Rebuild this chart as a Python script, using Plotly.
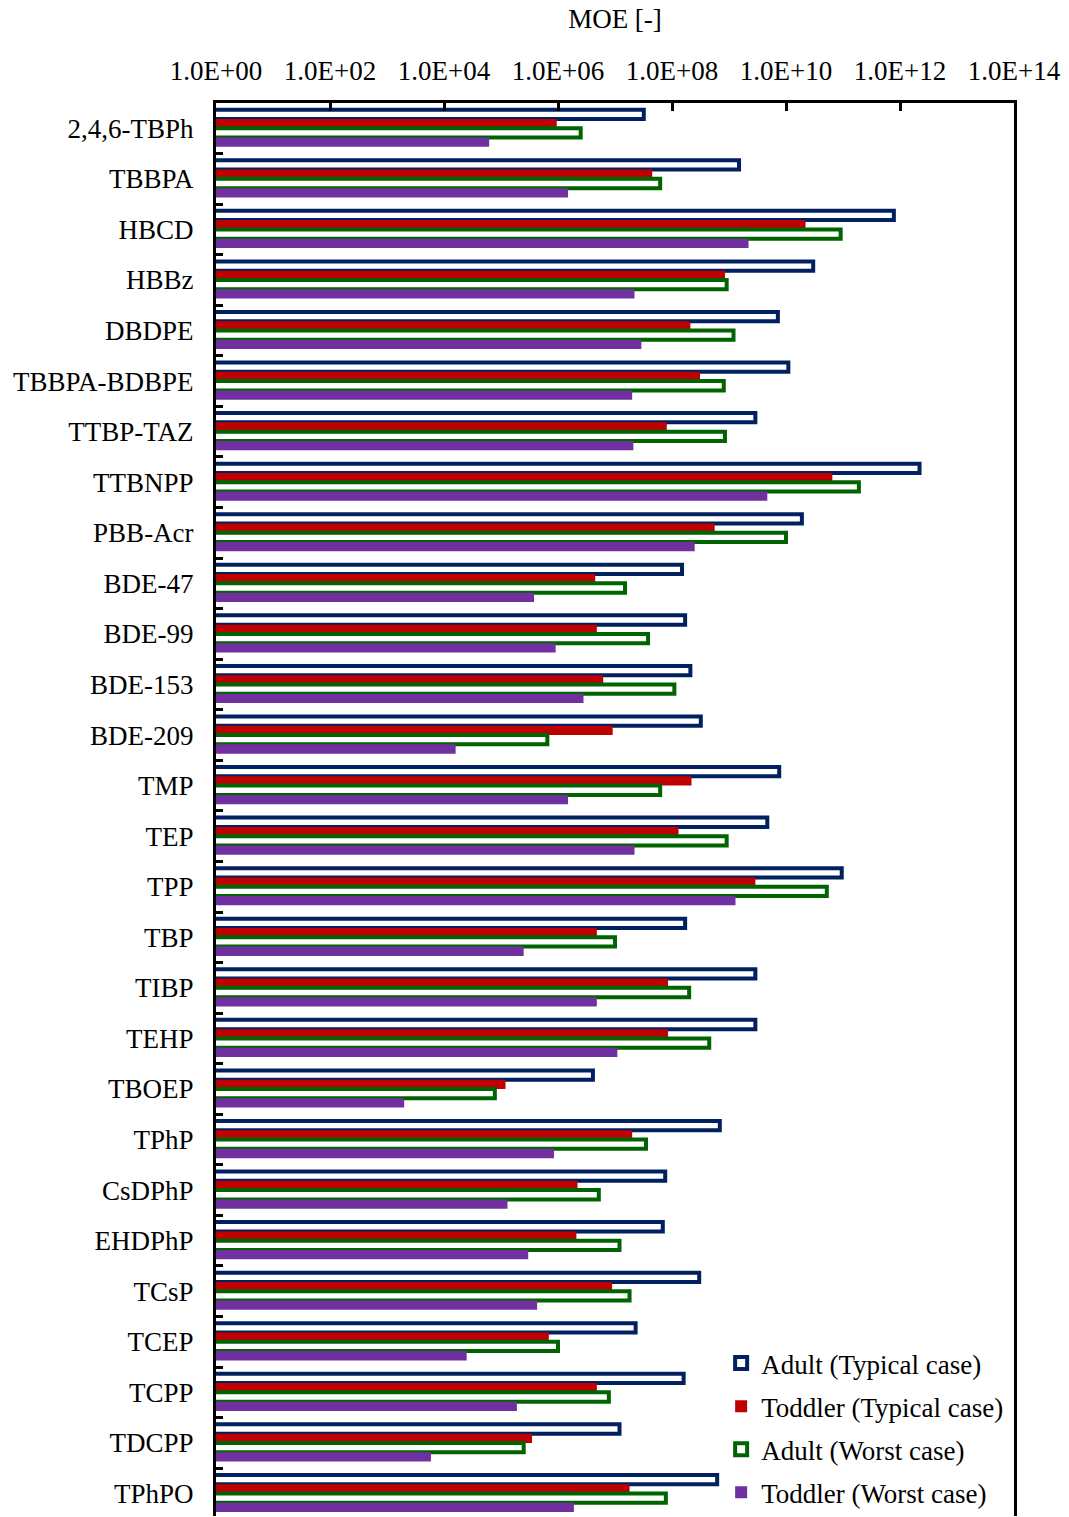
import plotly.graph_objects as go

# Flame retardants (top to bottom)
compounds = [
    "2,4,6-TBPh", "TBBPA", "HBCD", "HBBz", "DBDPE", "TBBPA-BDBPE", "TTBP-TAZ",
    "TTBNPP", "PBB-Acr", "BDE-47", "BDE-99", "BDE-153", "BDE-209", "TMP", "TEP",
    "TPP", "TBP", "TIBP", "TEHP", "TBOEP", "TPhP", "CsDPhP", "EHDPhP", "TCsP",
    "TCEP", "TCPP", "TDCPP", "TPhPO",
]

# Margin of exposure per scenario
moe_adult_typical = [
    3.2e7, 1.5e9, 7.8e11, 3.0e10, 7.2e9, 1.1e10, 2.9e9, 2.2e12, 1.9e10, 1.5e8,
    1.7e8, 2.1e8, 3.2e8, 7.6e9, 4.7e9, 9.5e10, 1.7e8, 2.9e9, 2.9e9, 4.1e6,
    6.9e8, 7.6e7, 6.9e7, 3.0e8, 2.3e7, 1.6e8, 1.2e7, 6.2e8,
]
moe_toddler_typical = [
    9.5e5, 4.5e7, 2.2e10, 8.5e8, 2.1e8, 3.1e8, 8.1e7, 6.5e10, 5.6e8, 4.5e6,
    4.8e6, 6.2e6, 9.1e6, 2.2e8, 1.3e8, 2.9e9, 4.8e6, 8.5e7, 8.5e7, 1.2e5,
    2.0e7, 2.2e6, 2.1e6, 8.9e6, 6.9e5, 4.8e6, 3.5e5, 1.8e7,
]
moe_adult_worst = [
    2.5e6, 6.2e7, 9.1e10, 9.1e8, 1.2e9, 8.1e8, 8.5e8, 1.9e11, 1.0e10, 1.5e7,
    3.8e7, 1.1e8, 6.5e5, 6.2e7, 9.1e8, 5.2e10, 1.0e7, 2.0e8, 4.5e8, 7.8e4,
    3.5e7, 5.2e6, 1.2e7, 1.8e7, 1.0e6, 7.8e6, 2.5e5, 7.8e7,
]
moe_toddler_worst = [
    6.2e4, 1.5e6, 2.2e9, 2.2e7, 2.9e7, 2.0e7, 2.1e7, 4.7e9, 2.5e8, 3.8e5,
    9.1e5, 2.8e6, 1.6e4, 1.5e6, 2.2e7, 1.3e9, 2.5e5, 4.8e6, 1.1e7, 2.0e3,
    8.5e5, 1.3e5, 3.0e5, 4.3e5, 2.5e4, 1.9e5, 5.9e3, 1.9e6,
]

tick_values = [1e0, 1e2, 1e4, 1e6, 1e8, 1e10, 1e12, 1e14]
tick_labels = ["1.0E+00", "1.0E+02", "1.0E+04", "1.0E+06",
               "1.0E+08", "1.0E+10", "1.0E+12", "1.0E+14"]

NAVY = "#002060"
RED = "#C00000"
GREEN = "#006400"
PURPLE = "#7030A0"
FONT = "Liberation Serif"

series = [
    ("Adult (Typical case)", moe_adult_typical, NAVY, True),
    ("Toddler (Typical case)", moe_toddler_typical, RED, False),
    ("Adult (Worst case)", moe_adult_worst, GREEN, True),
    ("Toddler (Worst case)", moe_toddler_worst, PURPLE, False),
]

fig = go.Figure()
for name, vals, color, hollow in series:
    if hollow:
        marker = dict(color="white", line=dict(color=color, width=4))
    else:
        marker = dict(color=color, line=dict(width=0))
    fig.add_trace(go.Bar(
        y=compounds, x=vals, orientation="h", name=name,
        legendgroup=name, marker=marker,
    ))

fig.update_layout(
    width=1069, height=1517,
    margin=dict(l=216, r=55, t=103, b=0, pad=0),
    paper_bgcolor="white", plot_bgcolor="white",
    font=dict(family=FONT, size=27, color="black"),
    barmode="group", bargap=0.265, bargroupgap=0,
    legend=dict(
        x=0.633, xanchor="left", y=0.125, yanchor="top",
        bgcolor="rgba(0,0,0,0)", borderwidth=0,
        font=dict(family=FONT, size=27, color="black"),
        traceorder="grouped", tracegroupgap=5,
    ),
)

fig.update_xaxes(
    type="log", range=[0, 14], side="top",
    tickvals=tick_values, ticktext=tick_labels,
    showline=True, linecolor="black", linewidth=3, mirror=False,
    ticks="inside", ticklen=8, tickwidth=3, tickcolor="black",
    showgrid=False, zeroline=False,
    tickfont=dict(family=FONT, size=27), ticklabelstandoff=9,
    title=dict(text="MOE [-]", font=dict(family=FONT, size=27), standoff=20),
)

fig.update_yaxes(
    type="category", categoryorder="array", categoryarray=compounds,
    range=[27.445, -0.5],
    showline=True, linecolor="black", linewidth=3, mirror=True,
    ticks="inside", tickson="boundaries", ticklen=7, tickwidth=3,
    tickcolor="black", showgrid=False, zeroline=False,
    tickfont=dict(family=FONT, size=27), ticklabelstandoff=14,
)

fig.write_html("out.html")
